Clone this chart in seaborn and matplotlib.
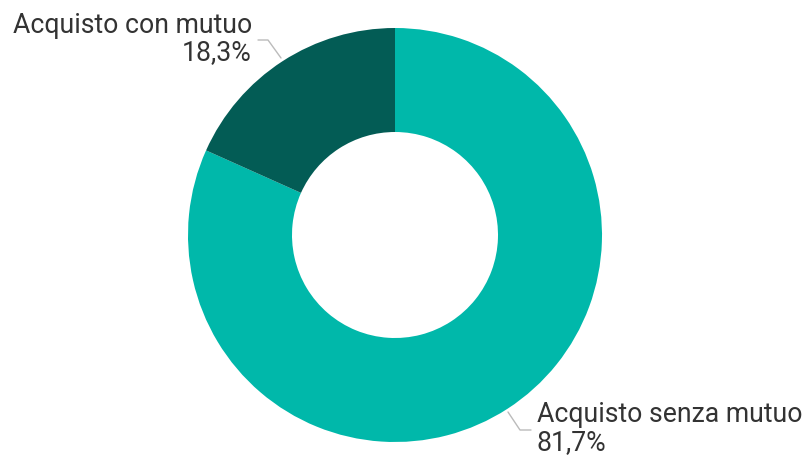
import matplotlib
matplotlib.use("Agg")
import matplotlib.pyplot as plt
import seaborn as sns

labels = ["Acquisto senza mutuo", "Acquisto con mutuo"]
values = [81.7, 18.3]
value_text = ["81,7%", "18,3%"]
colors = ["#00B8AA", "#035C55"]

sns.set_theme(style="white")
plt.rcParams['font.family'] = ['Roboto', 'DejaVu Sans']

W, H = 809, 455
fig = plt.figure(figsize=(W / 100, H / 100), dpi=100)
ax = fig.add_axes([0, 0, 1, 1])

cx, cy, r = 395, H - 235, 207
ax.pie(values, colors=colors, startangle=90, counterclock=False,
       radius=r, center=(cx, cy),
       wedgeprops=dict(width=104, linewidth=0))

ax.set_xlim(0, W)
ax.set_ylim(0, H)
ax.set_aspect('equal')
ax.axis('off')

txt_color = "#333333"
line_color = "#BBBBBB"
fs = 19.2

# label for "con mutuo" (top left)
ax.plot([258, 268, 281], [H - 40, H - 40, H - 58], color=line_color, lw=1)
ax.text(252, H - 33, labels[1], ha='right', va='baseline', fontsize=fs, color=txt_color)
ax.text(252, H - 60, value_text[1], ha='right', va='baseline', fontsize=fs, color=txt_color)

# label for "senza mutuo" (bottom right)
ax.plot([508, 520, 531], [H - 412, H - 430, H - 430], color=line_color, lw=1)
ax.text(537, H - 422, labels[0], ha='left', va='baseline', fontsize=fs, color=txt_color)
ax.text(537, H - 450, value_text[0], ha='left', va='baseline', fontsize=fs, color=txt_color)

fig.savefig("out.png", dpi=100, facecolor="white")
